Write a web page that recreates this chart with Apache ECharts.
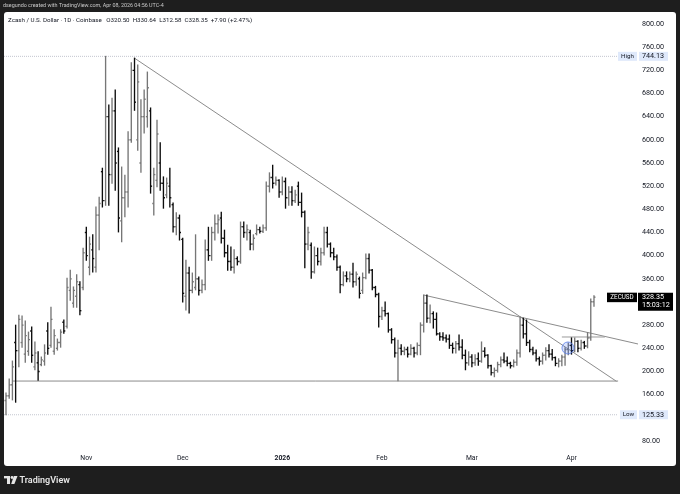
<!DOCTYPE html>
<html><head><meta charset="utf-8">
<script src="https://cdn.jsdelivr.net/npm/echarts@6/dist/echarts.min.js"></script>
<style>html,body{margin:0;padding:0;background:#1e1e1e}#c{width:680px;height:494px}</style>
</head><body><div id="c"></div>
<script>
// Daily bars, Oct 7 2025 (index 0) .. Apr 8 2026 (index 183)
const opens = [
150,158,177,250,236,250,230,235,270,208,
215,212,218,270,245,235,240,250,285,278,
340,318,330,350,345,440,380,410,380,470,
545,495,640,540,650,580,460,500,510,600,
720,600,560,640,640,650,490,530,560,525,
505,520,488,450,465,428,330,370,340,345,
360,340,350,410,400,440,455,465,430,405,
390,380,395,390,450,440,440,420,438,445,
442,448,520,535,525,530,510,528,500,510,
495,520,492,475,420,418,372,400,390,405,
440,420,405,398,380,350,365,360,368,355,
360,340,362,395,375,345,333,295,305,300,
272,255,232,240,235,238,230,240,232,245,
280,318,292,300,290,265,260,258,256,245,
240,248,242,228,215,225,215,222,218,235,
228,210,198,202,212,220,218,214,210,216,
232,280,265,250,238,232,222,218,228,236,
230,224,214,218,225,238,245,236,252,240,
250,244,258,320.50];
const highs = [
163,187,218,280,297,296,287,268,277,251,
234,225,246,284,311,272,256,272,289,361,
375,346,367,355,413,449,432,436,484,501,
551,744.13,660,672,686,586,553,539,614,733,
741,729,669,686,717,655,551,634,595,536,
534,551,491,474,470,430,392,380,370,436,
363,358,427,449,449,470,470,475,444,418,
415,410,398,458,458,453,444,436,453,449,
453,527,543,556,536,531,536,534,519,519,
513,527,508,477,449,422,415,413,413,449,
449,422,413,401,382,372,372,372,387,372,
363,370,403,403,376,347,335,311,320,301,
274,258,254,246,242,242,246,242,249,284,
332,332,315,303,301,267,267,263,263,249,
252,263,255,237,234,229,229,232,251,241,
229,211,206,216,225,232,225,216,220,237,
294,292,289,254,242,237,225,232,241,246,
238,225,222,228,241,249,258,258,253,254,
252,267,325,330.64];
const lows = [
125.33,154,151,147,208,242,216,228,216,203,
185,210,211,230,242,230,237,242,266,275,
323,311,311,298,341,392,367,372,372,410,
484,487,487,525,513,441,424,467,484,596,
651,582,544,612,622,508,470,519,513,482,
500,484,441,436,427,320,306,301,336,341,
332,336,341,392,392,427,439,422,398,375,
375,370,384,387,432,427,410,410,436,439,
440,444,510,517,522,501,505,482,487,487,
492,487,467,379,410,361,370,384,384,401,
415,398,393,375,336,348,355,355,346,349,
327,335,360,370,341,329,277,290,296,268,
249,225,184,229,229,225,229,225,229,229,
268,285,284,275,263,254,254,251,240,232,
232,237,222,203,211,208,211,211,216,225,
206,194,191,199,208,215,210,206,208,211,
225,258,245,234,229,218,211,213,220,225,
220,210,208,210,211,229,230,234,234,237,
240,241,254,312.58];
const closes = [
158,177,208,236,290,280,262,255,228,232,
200,220,232,240,290,262,250,268,270,345,
360,340,355,305,405,400,420,395,470,490,
495,640,540,650,560,465,500,510,600,720,
665,700,640,670,690,520,540,610,525,500,
525,500,450,465,440,335,370,340,355,360,
340,350,410,400,440,455,462,430,405,390,
380,395,390,450,440,445,420,430,445,442,
448,520,535,525,530,510,528,500,510,495,
505,492,475,420,440,372,400,390,405,440,
420,405,398,380,350,365,360,368,355,368,
335,362,395,375,345,333,295,305,300,272,
255,232,240,235,238,230,240,232,245,280,
318,292,300,290,265,260,258,256,245,240,
248,242,228,215,225,215,222,218,235,228,
210,198,202,212,220,218,214,210,216,232,
280,265,250,238,232,222,218,228,236,230,
224,214,218,225,238,245,236,252,240,250,
244,258,320.45,328.35];

// axis ticks
const monthTicks = [25, 55, 86, 117, 145, 176];           // day index of 1st of month
const monthLabels = ['Nov', 'Dec', '2026', 'Feb', 'Mar', 'Apr'];
const priceTicks = [80,160,200,240,280,360,400,440,480,520,560,600,640,680,720,760,800];

// drawings (day index, price)
const trendLine1 = [[40, 741], [190, 183]];
const trendLine2 = [[130, 332], [196.7, 247.5]];
const supportLine = [[2, 183.5], [190.5, 183.5]];
const shortLevel = [[173, 259.6], [186.4, 259.6]];
const circleMark = [[174.9, 240.6]];
const highValue = 744.13, lowValue = 125.33, lastValue = 328.35;
const xMin = -0.62, xMax = 196.7, yMin = 66.2, yMax = 820.7;

const UP = '#767676', DOWN = '#0c0c0c', LINE = '#8c8c8c';
const FONT = 'Roboto, "Noto Sans", sans-serif';

const barData = opens.map((o, i) => [i, o, highs[i], lows[i], closes[i]]);

function renderBar(params, api) {
  const x = api.value(0), o = api.value(1), h = api.value(2), l = api.value(3), c = api.value(4);
  const pH = api.coord([x, h]), pL = api.coord([x, l]), pO = api.coord([x, o]), pC = api.coord([x, c]);
  const w = 1.5;
  const style = { stroke: c >= o ? UP : DOWN, lineWidth: 1.35 };
  return { type: 'group', children: [
    { type: 'line', shape: { x1: pH[0], y1: pH[1] - 0.5, x2: pL[0], y2: pL[1] + 0.5 }, style },
    { type: 'line', shape: { x1: pO[0] - w, y1: pO[1], x2: pO[0], y2: pO[1] }, style },
    { type: 'line', shape: { x1: pC[0], y1: pC[1], x2: pC[0] + w, y2: pC[1] }, style }
  ]};
}

function lineSeries(data, color, type) {
  return { type: 'line', data, symbol: 'none', silent: true, z: 3,
    lineStyle: { color, width: 1, type: type || 'solid' } };
}

const chart = echarts.init(document.getElementById('c'), null, { renderer: 'canvas' });
chart.setOption({
  animation: false,
  backgroundColor: '#1e1e1e',
  grid: { left: 4, right: 42, top: 12, bottom: 45 },
  xAxis: {
    type: 'value', min: xMin, max: xMax,
    axisLine: { show: false }, axisTick: { show: false }, splitLine: { show: false },
    axisLabel: {
      customValues: monthTicks, margin: 6,
      color: '#131722', fontSize: 6.8, fontFamily: FONT,
      formatter: v => { const i = monthTicks.indexOf(v); const t = monthLabels[i] || ''; return /^\d{4}$/.test(t) ? '{b|' + t + '}' : t; },
      rich: { b: { fontWeight: 'bold', color: '#131722', fontSize: 6.8, fontFamily: FONT } }
    }
  },
  yAxis: {
    type: 'value', position: 'right', min: yMin, max: yMax,
    axisLine: { show: false }, axisTick: { show: false }, splitLine: { show: false },
    axisLabel: {
      customValues: priceTicks, margin: 4,
      color: '#131722', fontSize: 7.2, fontFamily: FONT,
      formatter: v => v.toFixed(2)
    }
  },
  series: [
    lineSeries([[xMin, highValue], [190.2, highValue]], '#c3c6cf', 'dotted'),
    lineSeries([[xMin, lowValue], [190.2, lowValue]], '#c3c6cf', 'dotted'),
    lineSeries(supportLine, LINE),
    lineSeries(trendLine1, LINE),
    lineSeries(trendLine2, LINE),
    lineSeries(shortLevel, '#9a9a9a'),
    { type: 'custom', renderItem: renderBar, data: barData, z: 4,
      encode: { x: 0, y: [1, 2, 3, 4] } },
    { type: 'scatter', data: circleMark, symbolSize: 12, z: 5, silent: true,
      itemStyle: { color: 'rgba(41,98,255,0.22)', borderColor: '#5b7fe8', borderWidth: 1 } }
  ]
});

const yHigh = chart.convertToPixel({ yAxisIndex: 0 }, highValue);
const yLow = chart.convertToPixel({ yAxisIndex: 0 }, lowValue);
const yLast = chart.convertToPixel({ yAxisIndex: 0 }, lastValue);
const plotRight = chart.convertToPixel({ xAxisIndex: 0 }, xMax);
const BLUEBG = '#dfe9fb';

function txt(x, y, text, opt) {
  return Object.assign({ type: 'text', x, y, silent: true, style: Object.assign({
    text, fontFamily: FONT, fontSize: 6.3, fill: '#131722', verticalAlign: 'middle', align: 'left'
  }, opt || {}) });
}
function box(x, y, w, h, fill, z) {
  return { type: 'rect', shape: { x, y, width: w, height: h }, style: { fill }, silent: true, z: z || 10 };
}

chart.setOption({
  graphic: [
    { type: 'rect', shape: { x: 4, y: 12, width: 672, height: 454, r: 3 }, style: { fill: '#ffffff' }, z: -100, silent: true },
    Object.assign(txt(3, 6, 'dsegundo created with TradingView.com, Apr 08, 2026 04:56 UTC-4', { fill: '#c9c9c9', fontSize: 5.4 }), { z: 10 }),
    Object.assign(txt(8, 20, 'Zcash / U.S. Dollar · 1D · Coinbase   O320.50  H330.64  L312.58  C328.35  +7.90 (+2.47%)', { fontSize: 6.2 }), { z: 10 }),
    // High label
    box(plotRight - 20, yHigh - 4.5, 19, 9, BLUEBG),
    Object.assign(txt(plotRight - 10.5, yHigh, 'High', { align: 'center', fontSize: 6.2 }), { z: 11 }),
    box(plotRight + 1, yHigh - 4.5, 29, 9, BLUEBG),
    Object.assign(txt(plotRight + 4, yHigh, highValue.toFixed(2), { fontSize: 7.2 }), { z: 11 }),
    // Low label
    box(plotRight - 18, yLow - 4.5, 17, 9, BLUEBG),
    Object.assign(txt(plotRight - 9.5, yLow, 'Low', { align: 'center', fontSize: 6.2 }), { z: 11 }),
    box(plotRight + 1, yLow - 4.5, 29, 9, BLUEBG),
    Object.assign(txt(plotRight + 4, yLow, lowValue.toFixed(2), { fontSize: 7.2 }), { z: 11 }),
    // Last price label
    box(plotRight - 31, yLast - 4.5, 30, 9.5, '#000000'),
    Object.assign(txt(plotRight - 16, yLast, 'ZECUSD', { align: 'center', fill: '#ffffff', fontSize: 6.3 }), { z: 11 }),
    box(plotRight, yLast - 4.5, 35, 18, '#000000'),
    Object.assign(txt(plotRight + 4, yLast, lastValue.toFixed(2), { fill: '#ffffff', fontSize: 7.2 }), { z: 11 }),
    Object.assign(txt(plotRight + 4, yLast + 8.5, '15:03:12', { fill: '#ffffff', fontSize: 7.2 }), { z: 11 }),
    // TradingView footer logo
    box(4, 476, 6, 2.4, '#e6e6e6'),
    box(7, 476, 3, 8, '#e6e6e6'),
    { type: 'circle', shape: { cx: 12, cy: 477.5, r: 1.4 }, style: { fill: '#e6e6e6' }, z: 10, silent: true },
    { type: 'polygon', shape: { points: [[13.8, 476], [17.5, 476], [14.4, 484], [11.2, 484]] }, style: { fill: '#e6e6e6' }, z: 10, silent: true },
    Object.assign(txt(19.5, 480.5, 'TradingView', { fill: '#e6e6e6', fontSize: 9, fontWeight: 600 }), { z: 10 })
  ]
});
</script>
</body></html>
